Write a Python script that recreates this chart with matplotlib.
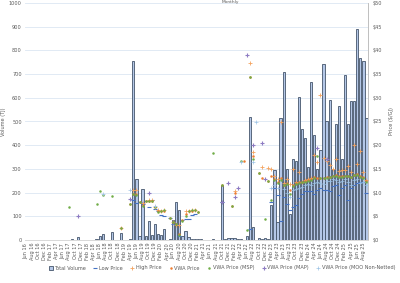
import matplotlib
matplotlib.use("Agg")
import matplotlib.pyplot as plt
import numpy as np

# months Jun 16 .. Sep 25
mon = ["Jan", "Feb", "Mar", "Apr", "May", "Jun", "Jul", "Aug", "Sep", "Oct", "Nov", "Dec"]
months = []
for y in range(16, 26):
    for m in range(12):
        if (y == 16 and m < 5) or (y == 25 and m > 8):
            continue
        months.append(f"{mon[m]} {y}")

# volume (TJ), one per month
volume = [
    0, 0, 0, 0, 0, 0, 0,                                   # Jun-Dec 16
    0, 0, 0, 0, 0, 0, 0, 0, 3, 0, 12, 0,                   # 2017
    0, 0, 0, 0, 4, 16, 27, 0, 0, 33, 0, 0,                 # 2018
    28, 0, 0, 4, 755, 256, 17, 215, 17, 82, 21, 68,        # 2019
    24, 22, 45, 0, 4, 84, 160, 125, 17, 37, 12, 4,         # 2020
    4, 4, 3, 0, 0, 0, 3, 0, 0, 232, 4, 8,                  # 2021
    10, 10, 6, 4, 0, 17, 518, 54, 0, 7, 6, 7,              # 2022
    4, 147, 295, 75, 516, 707, 300, 110, 340, 333, 605, 470,  # 2023
    429, 310, 668, 442, 300, 380, 741, 501, 591, 300, 489, 565,  # 2024
    340, 695, 488, 588, 588, 889, 767, 755, 516,           # 2025
]

N = None
low_price = [
    N, N, N, N, N, N, N,
    N, N, N, N, N, N, N, N, N, N, N, N,
    N, N, N, N, N, N, N, N, N, N, N, N,
    N, N, N, N, 8.5, 7.9, 8.0, 7.7, 8.2, 7.0, 8.4, 6.6,
    6.1, 5.3, 5.0, N, 4.6, 3.3, 3.3, 0.8, 4.2, 4.5, 4.4, 5.2,
    5.5, N, N, N, N, N, N, N, N, 8.0, N, N,
    N, N, N, N, N, N, 2.3, N, N, N, N, N,
    N, 8.0, 11.0, 9.5, 4.0, 9.0, 7.5, 6.3, 6.9, 7.4, 8.8, 9.8,
    10.4, 10.4, 10.4, 9.8, 10.5, 10.9, 10.5, 10.6, 10.4, 11.3, 11.6, 9.5,
    10.9, 11.6, 8.4, 11.0, 11.6, 12.0, 12.2, 12.2, 10.0,
]
high_price = [
    N, N, N, N, N, N, N,
    N, N, N, N, N, N, N, N, N, N, N, N,
    N, N, N, N, N, N, N, N, N, N, N, N,
    2.6, N, N, N, 10.5, 10.5, N, 7.9, N, 8.4, 8.4, 6.9,
    6.3, 6.2, 6.4, N, N, 3.8, 3.2, 3.2, N, 6.1, 6.2, 6.3,
    6.3, N, N, N, N, N, N, N, N, N, N, N,
    N, 10.4, N, N, N, N, 37.3, 18.5, N, N, 15.5, N,
    15.1, 15.0, 13.4, 12.8, 24.9, 12.0, 12.9, 11.8, 15.0, 12.2, 14.4, 12.3,
    12.6, 12.8, 13.0, 17.9, 16.4, 30.6, 17.3, 16.6, 15.9, 14.9, 17.1, 14.5,
    14.8, 14.8, 15.7, 14.3, 20.0, 16.0, 18.8, 14.3, 12.6,
]
vwa_price = [
    N, N, N, N, N, N, N,
    N, N, N, N, N, N, N, N, N, N, N, N,
    N, N, N, N, N, N, N, N, N, N, N, N,
    2.5, N, N, 7.7, 9.6, 9.8, 8.0, 7.4, 8.2, 8.3, 8.3, 6.9,
    6.1, 6.1, 6.2, N, 4.7, 3.7, 3.3, 1.2, 4.2, 5.5, 6.1, 6.2,
    6.3, 6.0, N, N, N, N, N, N, N, 11.6, N, N,
    7.2, 10.0, N, N, 16.7, N, 34.3, 17.8, N, 14.1, 13.0, N,
    12.5, 13.4, 12.8, 12.2, 13.0, 11.6, 12.0, 10.5, 11.5, 12.0, 12.3, 12.3,
    12.4, 12.6, 12.8, 13.2, 13.0, 13.1, 13.1, 13.2, 13.3, 13.6, 13.7, 13.5,
    13.4, 13.6, 13.5, 13.3, 13.8, 13.9, 13.4, 13.2, 12.4,
]
msp_price = [
    N, N, N, N, N, N, N,
    N, N, N, N, N, N, N, 7.0, N, N, N, N,
    N, N, N, N, 7.7, 10.3, 9.5, N, N, 9.3, N, N,
    2.5, N, N, 7.6, 9.8, 9.5, 8.0, 7.2, 8.2, 8.2, 8.3, 7.0,
    6.0, 6.1, 6.3, N, 4.7, 3.7, 3.4, 1.0, 4.1, 5.1, 6.1, 6.3,
    6.4, 6.0, N, N, N, N, 18.3, N, N, 11.6, N, N,
    7.2, N, N, 16.7, N, 2.2, 34.3, 17.0, N, 14.1, N, 4.5,
    12.5, 8.4, 12.6, 12.0, 12.7, 11.5, 11.8, 9.8, 11.3, 11.8, 12.0, 12.2,
    12.3, 12.5, 12.6, 13.0, 17.8, 13.0, 13.0, 13.1, 13.2, 13.5, 13.6, 13.3,
    13.3, 13.5, 13.4, 13.2, 13.7, 13.8, 13.2, 13.0, 12.3,
]
map_price = [
    N, N, N, N, N, N, N,
    N, N, N, N, N, N, N, N, N, N, 5.0, N,
    N, N, N, N, N, N, N, N, N, N, N, N,
    N, N, N, 8.6, N, N, N, N, N, 10.0, N, N,
    N, N, N, N, N, N, N, N, N, N, N, N,
    N, N, N, N, N, N, N, N, N, 8.1, N, 12.1,
    N, 9.1, 11.0, N, N, 39.0, N, 20.0, N, N, 20.5, 12.8,
    N, N, N, N, N, N, N, N, N, N, N, N,
    N, N, N, N, 19.5, N, N, 17.0, N, N, N, N,
    N, N, N, N, N, N, N, N, N,
]
moo_price = [
    N, N, N, N, N, N, N,
    N, N, N, N, N, N, N, N, N, N, N, N,
    N, N, N, N, N, N, 9.6, N, N, N, N, N,
    N, N, N, 10.5, N, N, N, N, N, N, N, 7.2,
    N, N, N, N, N, N, N, N, N, N, N, N,
    N, N, N, N, N, N, N, N, N, N, N, N,
    N, N, N, 16.5, N, N, N, 16.5, 25.0, N, N, N,
    N, 11.0, 11.5, 11.0, N, 10.8, 10.0, 9.0, 10.5, 10.8, 11.0, 11.2,
    11.5, 11.8, 11.6, 12.0, 12.2, 12.0, 11.8, 12.4, 12.5, 12.8, 12.6, 12.2,
    12.4, 12.8, 12.3, 11.5, 12.6, 12.9, 12.0, 12.2, 11.6,
]

def arr(v):
    return np.array([np.nan if a is None else a for a in v], dtype=float)

x = np.arange(len(months))
grey = "#595959"
fs = 3.6

fig = plt.figure(figsize=(4.0, 2.83), dpi=100)
ax = fig.add_axes([24.5 / 400, 43 / 283, (368 - 24.5) / 400, 237 / 283])
ax2 = ax.twinx()

ax.bar(x, volume, width=0.72, color="#B4C7E7", edgecolor="#44546A", linewidth=0.6,
       label="Total Volume", zorder=2)
ax.set_ylim(0, 1000)
ax.set_yticks(np.arange(0, 1001, 100))
ax.set_xlim(-0.5, len(months) - 0.5)
ax.grid(axis="y", color="#DCE6F2", linewidth=0.6, zorder=0)
ax.set_axisbelow(True)
ax.set_xticks(x[::2])
ax.set_xticklabels(months[::2], rotation=90, fontsize=fs, color=grey)
ax.tick_params(axis="both", length=0, pad=2, labelsize=fs, labelcolor=grey)
ax.set_ylabel("Volume (TJ)", fontsize=fs, color=grey)
ax.yaxis.set_label_coords(-0.055, 0.5)

ms = dict(linestyle="none", zorder=4)
ax2.plot(x, arr(low_price), marker="_", color="#4472C4", markersize=3.0, mew=0.8, label="Low Price", **ms)
ax2.plot(x, arr(high_price), marker="+", color="#F4A460", markersize=3.0, mew=0.6, label="High Price", **ms)
ax2.plot(x, arr(vwa_price), marker="o", color="#ED7D31", markersize=1.8, mew=0, label="VWA Price", **ms)
ax2.plot(x, arr(msp_price), marker="o", color="#70AD47", markersize=1.8, mew=0, label="VWA Price (MSP)", **ms)
ax2.plot(x, arr(map_price), marker="+", color="#8E7CC3", markersize=3.0, mew=0.8, label="VWA Price (MAP)", **ms)
ax2.plot(x, arr(moo_price), marker="+", color="#9DC3E6", markersize=2.8, mew=0.5, label="VWA Price (MOO Non-Netted)", **ms)
ax2.set_ylim(0, 50)
ax2.set_yticks(np.arange(0, 51, 5))
ax2.set_yticklabels([f"${v}" for v in range(0, 51, 5)])
ax2.tick_params(axis="y", length=0, pad=3, labelsize=fs, labelcolor=grey)
ax2.set_ylabel("Price ($/GJ)", fontsize=fs, color=grey, rotation=90, labelpad=5)

for a in (ax, ax2):
    for s in ("top", "left"):
        a.spines[s].set_visible(False)
    a.spines["bottom"].set_color("#D9D9D9")
    a.spines["right"].set_color("#BFBFBF")
    a.spines["bottom"].set_linewidth(0.6)
    a.spines["right"].set_linewidth(0.6)

h1, l1 = ax.get_legend_handles_labels()
h2, l2 = ax2.get_legend_handles_labels()
fig.legend(h1 + h2, l1 + l2, loc="center", bbox_to_anchor=(222 / 400, 1 - 268 / 283),
           ncol=7, frameon=False, fontsize=fs, labelcolor=grey, handlelength=0.8,
           handletextpad=0.3, columnspacing=1.5, borderaxespad=0)

fig.text(230 / 400, 0.999, "Monthly", ha="center", va="top", fontsize=3.2, color=grey)

fig.savefig("out.png", dpi=100)
